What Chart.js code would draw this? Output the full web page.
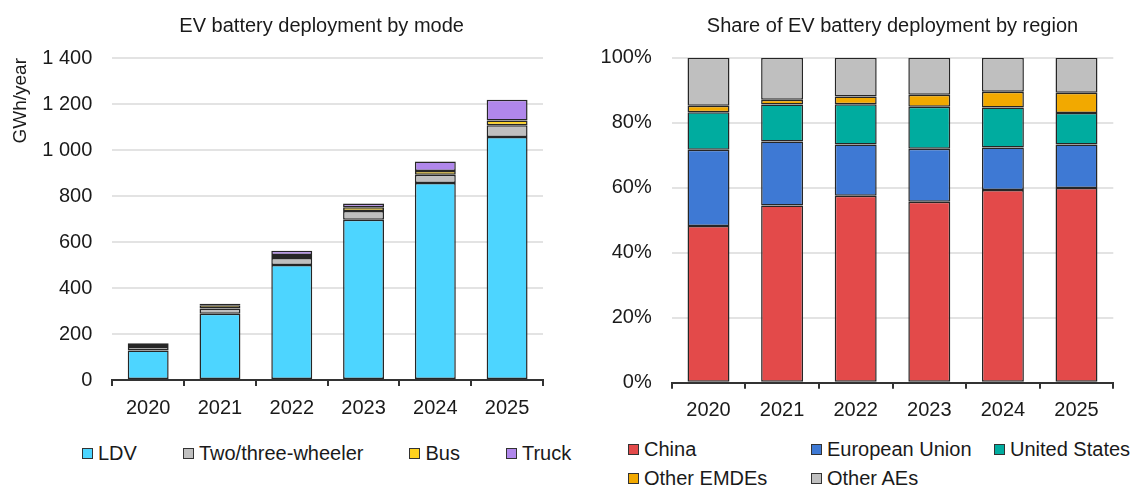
<!DOCTYPE html>
<html>
<head>
<meta charset="utf-8">
<script src="https://cdn.jsdelivr.net/npm/chart.js@4.4.1/dist/chart.umd.min.js"></script>
<style>
  body { margin: 0; background: #fff; font-family: "Liberation Sans", Arial, sans-serif; color: #1a1a1a; }
  .wrap { position: relative; width: 1136px; height: 488px; overflow: hidden; }
  canvas { position: absolute; top: 0; }
  #modeChart { left: 0; }
  #regionChart { left: 568px; }
  .legend { position: absolute; font-size: 20px; line-height: 20px; }
  .legend .item { display: flex; align-items: center; white-space: nowrap; }
  .legend .box { width: 11px; height: 11px; box-sizing: border-box; border: 1.5px solid #333; margin-right: 5px; }
  #modeLegend { left: 82px; top: 443px; display: flex; gap: 46px; }
  #regionLegend { left: 628px; top: 439px; display: grid; grid-template-columns: 183px 183px auto; row-gap: 9px; }
</style>
</head>
<body>
<div class="wrap">
  <canvas id="modeChart" width="568" height="425"></canvas>
  <canvas id="regionChart" width="568" height="425"></canvas>
  <div class="legend" id="modeLegend"></div>
  <div class="legend" id="regionLegend"></div>
</div>
<script>
const years = ['2020', '2021', '2022', '2023', '2024', '2025'];

// GWh/year by mode
const ldv = [128, 288, 500, 697, 856, 1057];
const twoThree = [16, 23, 30, 38, 36, 51];
const bus = [12, 14, 14, 16, 17, 20];
const truck = [4, 6, 18, 16, 41, 90];
const modeTicks = [0, 200, 400, 600, 800, 1000, 1200, 1400];

// share by region, %
const china = [48.2, 54.5, 57.5, 55.7, 59.3, 59.9];
const eu = [23.5, 19.7, 15.8, 16.3, 13.1, 13.4];
const us = [11.5, 11.4, 12.4, 12.9, 12.3, 9.7];
const otherEmde = [2.0, 1.5, 2.4, 3.7, 4.8, 6.2];
const otherAe = [14.8, 12.9, 11.9, 11.4, 10.5, 10.8];
const shareTicks = [0, 20, 40, 60, 80, 100];

const FONT = '"Liberation Sans", Arial, sans-serif';
const TEXT = '#1a1a1a';

// title centred over the plot area
const plotTitle = {
  id: 'plotTitle',
  afterDraw(chart, args, opts) {
    const ctx = chart.ctx;
    const a = chart.chartArea;
    ctx.save();
    ctx.font = '20px ' + FONT;
    ctx.fillStyle = TEXT;
    ctx.textAlign = 'center';
    ctx.textBaseline = 'middle';
    ctx.fillText(opts.text, (a.left + a.right) / 2 + (opts.dx || 0), opts.y);
    ctx.restore();
  }
};

function bar(label, data, color) {
  return {
    label: label,
    data: data,
    backgroundColor: color,
    borderColor: '#262626',
    borderWidth: 1.5,
    borderSkipped: false,
    barPercentage: 0.57,
    categoryPercentage: 1.0
  };
}

function spaced(v) {
  return String(v).replace(/\B(?=(\d{3})+(?!\d))/g, ' ');
}

function xScale() {
  return {
    stacked: true,
    afterFit: function (s) { s.height = 40; },
    grid: { drawOnChartArea: false, color: '#333', lineWidth: 2, tickLength: 6, offset: true },
    border: { color: '#333', width: 2 },
    ticks: { color: TEXT, font: { size: 20, family: FONT }, padding: 10 }
  };
}

function makeLegend(el, chart) {
  chart.data.datasets.forEach(function (ds) {
    const item = document.createElement('div');
    item.className = 'item';
    const box = document.createElement('span');
    box.className = 'box';
    box.style.background = ds.backgroundColor;
    const txt = document.createElement('span');
    txt.textContent = ds.label;
    item.appendChild(box);
    item.appendChild(txt);
    el.appendChild(item);
  });
}

const modeChart = new Chart(document.getElementById('modeChart'), {
  type: 'bar',
  data: {
    labels: years,
    datasets: [
      bar('LDV', ldv, '#4DD5FF'),
      bar('Two/three-wheeler', twoThree, '#BFBFBF'),
      bar('Bus', bus, '#FFD21E'),
      bar('Truck', truck, '#B087EB')
    ]
  },
  options: {
    responsive: false,
    animation: false,
    layout: { padding: { top: 58, left: 9.5, right: 25, bottom: 5 } },
    plugins: {
      legend: { display: false },
      tooltip: { enabled: false },
      plotTitle: { text: 'EV battery deployment by mode', y: 26, dx: -6 }
    },
    scales: {
      x: xScale(),
      y: {
        stacked: true,
        min: modeTicks[0],
        max: modeTicks[modeTicks.length - 1],
        afterBuildTicks: function (s) { s.ticks = modeTicks.map(function (v) { return { value: v }; }); },
        afterFit: function (s) { s.width = 102.8; },
        grid: { color: '#e3e3e3', lineWidth: 2, drawTicks: false },
        border: { display: false },
        ticks: {
          color: TEXT,
          font: { size: 20, family: FONT },
          padding: 20,
          callback: function (v) { return spaced(v); }
        },
        title: {
          display: true,
          text: 'GWh/year',
          align: 'end',
          color: TEXT,
          font: { size: 19, family: FONT },
          padding: { top: 0, bottom: 10 }
        }
      }
    }
  },
  plugins: [plotTitle]
});

const regionChart = new Chart(document.getElementById('regionChart'), {
  type: 'bar',
  data: {
    labels: years,
    datasets: [
      bar('China', china, '#E34A4A'),
      bar('European Union', eu, '#3E79D4'),
      bar('United States', us, '#00AC9F'),
      bar('Other EMDEs', otherEmde, '#F2A900'),
      bar('Other AEs', otherAe, '#BFBFBF')
    ]
  },
  options: {
    responsive: false,
    animation: false,
    layout: { padding: { top: 57.7, left: 32.7, right: 22.7, bottom: 2.3 } },
    plugins: {
      legend: { display: false },
      tooltip: { enabled: false },
      plotTitle: { text: 'Share of EV battery deployment by region', y: 26 }
    },
    scales: {
      x: xScale(),
      y: {
        stacked: true,
        min: shareTicks[0],
        max: shareTicks[shareTicks.length - 1],
        afterBuildTicks: function (s) { s.ticks = shareTicks.map(function (v) { return { value: v }; }); },
        afterFit: function (s) { s.width = 71; },
        grid: { color: '#e3e3e3', lineWidth: 2, drawTicks: false },
        border: { display: false },
        ticks: {
          color: TEXT,
          font: { size: 20, family: FONT },
          padding: 20,
          callback: function (v) { return v + '%'; }
        }
      }
    }
  },
  plugins: [plotTitle]
});

makeLegend(document.getElementById('modeLegend'), modeChart);
makeLegend(document.getElementById('regionLegend'), regionChart);
</script>
</body>
</html>
